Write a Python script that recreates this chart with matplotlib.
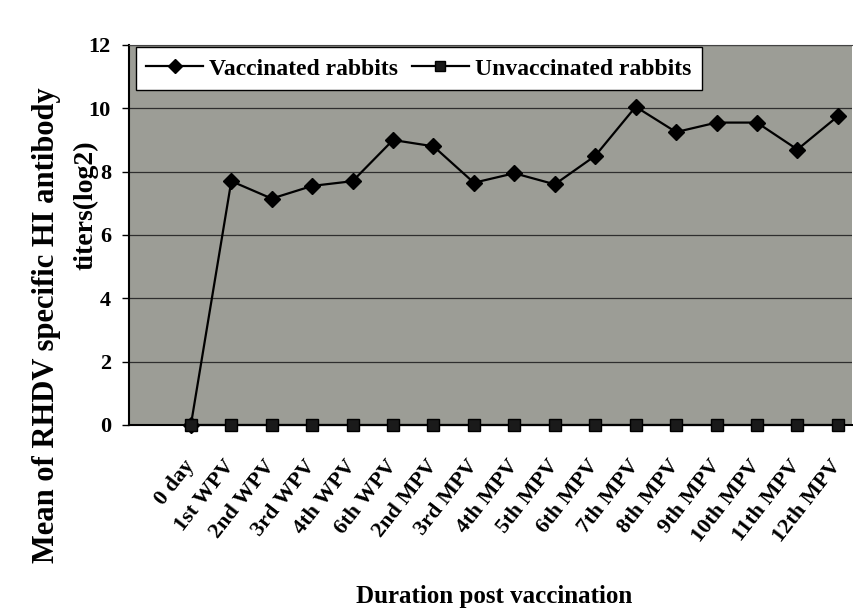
import matplotlib.pyplot as plt

plt.rcParams['font.family'] = ['Liberation Serif', 'DejaVu Serif']
plt.rcParams['font.weight'] = 'bold'

# categories on the x axis
periods = ['0 day', '1st WPV', '2nd WPV', '3rd WPV', '4th WPV', '6th WPV',
           '2nd MPV', '3rd MPV', '4th MPV', '5th MPV', '6th MPV', '7th MPV',
           '8th MPV', '9th MPV', '10th MPV', '11th MPV', '12th MPV']

# mean HI titers (log2)
vaccinated = [0, 7.7, 7.15, 7.55, 7.7, 9.0, 8.8, 7.65, 7.95, 7.6, 8.5,
              10.05, 9.25, 9.55, 9.55, 8.7, 9.75]
unvaccinated = [0] * 17

x = list(range(len(periods)))

fig = plt.figure(figsize=(8.54, 6.12), dpi=100)
ax = fig.add_axes([129/854, 1 - 425/612, 723/854, 380/612])
ax.set_facecolor('#9c9d96')

ax.set_axisbelow(True)
ax.yaxis.grid(True, color='#2e2e2e', linewidth=0.9)

ax.plot(x, vaccinated, color='black', linewidth=1.6, marker='D',
        markersize=8, label='Vaccinated rabbits', clip_on=False, zorder=3)
ax.plot(x, unvaccinated, color='black', linewidth=1.6, marker='s',
        markersize=8, markerfacecolor='#1a1a1a', label='Unvaccinated rabbits',
        clip_on=False, zorder=4)

ax.set_xlim(-1.53, 16.35)
ax.set_ylim(0, 12)
ax.set_yticks(range(0, 13, 2))
ax.set_xticks(x)
ax.set_xticklabels(periods, rotation=52, ha='right', va='center',
                   rotation_mode='anchor', fontsize=16, fontweight='bold')
ax.tick_params(axis='x', length=0, pad=27)
ax.tick_params(axis='y', length=5, width=1, direction='out', pad=8,
               labelsize=16)

for side in ['left', 'bottom']:
    ax.spines[side].set_color('black')
    ax.spines[side].set_linewidth(1.5)
ax.spines['top'].set_color('#444444')
ax.spines['right'].set_visible(False)

leg = ax.legend(loc='upper left', bbox_to_anchor=(0.006, 1.0), ncol=2,
                frameon=True, fancybox=False, framealpha=1,
                edgecolor='black', handlelength=2.4, handletextpad=0.25,
                columnspacing=0.6, borderpad=0.45, borderaxespad=0.1,
                markerscale=0.85, prop={'weight': 'bold', 'size': 17})
leg.get_frame().set_linewidth(1.0)

fig.text(47/854, 1 - 325/612, 'Mean of RHDV specific HI antibody',
         rotation=90, ha='center', va='center', fontsize=22,
         fontweight='bold')
fig.text(86/854, 1 - 205/612, 'titers(log2)', rotation=90, ha='center',
         va='center', fontsize=20, fontweight='bold')
fig.text(494/854, 1 - 597/612, 'Duration post vaccination', ha='center',
         va='center', fontsize=18, fontweight='bold')

fig.savefig('out.png', dpi=100)
